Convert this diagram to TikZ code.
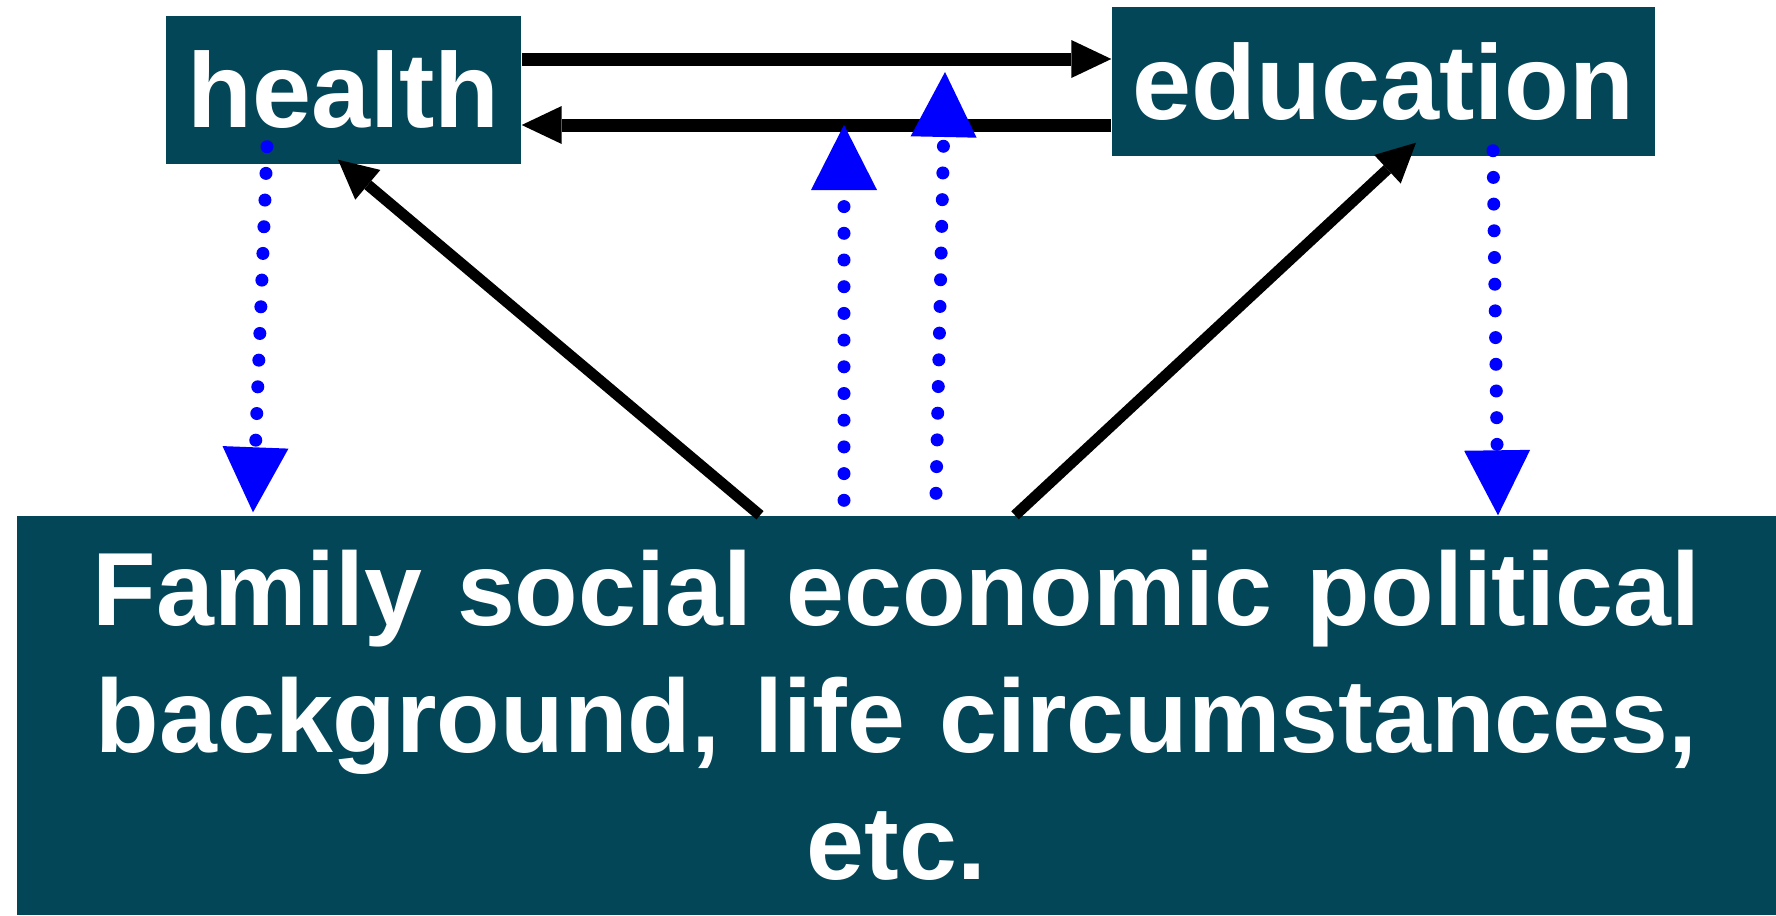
\documentclass[tikz,border=0pt]{standalone}
\usepackage{fontspec}
\setmainfont{Liberation Sans}
\usetikzlibrary{arrows.meta,positioning}
\definecolor{boxteal}{RGB}{2,70,87}
\tikzset{
  box/.style={fill=boxteal,text=white,inner sep=0pt,align=center,
    font=\fontsize{30.2pt}{36.1pt}\selectfont\bfseries},
  flow/.style={-{Triangle[length=4mm,width=3.8mm,line width=0pt]},line width=1.3mm},
  effect/.style={-{Triangle[length=6.5mm,width=6.6mm,line width=0pt]},blue,
    line width=1.3mm,line cap=round,dash pattern=on 0pt off 2.67mm}
}

\begin{document}
\begin{tikzpicture}[
  diagonal/.style={flow,line width=1.1mm,-{Triangle[length=3.9mm,width=3.9mm,line width=0pt]}}
]
  \useasboundingbox (0,0) rectangle (17.76,-9.15);
  \node[box,minimum width=3.55cm,minimum height=1.48cm] (health) at (3.435,-0.90) {health};
  \node[box,minimum width=5.43cm,minimum height=1.49cm] (education) at (13.835,-0.815) {education};
  \node[box,minimum width=17.59cm,minimum height=3.99cm,text width=17.2cm,
    font=\fontsize{29.6pt}{36.1pt}\selectfont\bfseries] (family) at (8.965,-7.155)
    {Family social economic political\\background, life circumstances,\\etc.};
  \coordinate (hup) at ([yshift=0.31cm]health.east);
  \coordinate (hlow) at ([yshift=-0.35cm]health.east);
  \draw[flow] (hup) -- (hup -| education.west);
  \draw[flow] (hlow -| education.west) -- (hlow);
  \draw[diagonal] ([xshift=-1.365cm]family.north) -- ([xshift=-0.055cm,yshift=0.05cm]health.south);
  \draw[diagonal] ([xshift=1.185cm]family.north) -- ([xshift=0.325cm,yshift=0.14cm]education.south);
  \draw[effect] ([xshift=-0.765cm,yshift=0.18cm]health.south) -- ([xshift=-6.435cm,yshift=0.03cm]family.north);
  \draw[effect] ([xshift=1.095cm,yshift=0.06cm]education.south) -- ([xshift=6.015cm]family.north);
  \coordinate (lowfoot) at ([xshift=-0.525cm,yshift=0.15cm]family.north);
  \coordinate (upfoot) at ([xshift=0.395cm,yshift=0.22cm]family.north);
  \path (upfoot |- hup) ++(0.09,-0.13) coordinate (uptip);
  \draw[effect] (lowfoot) -- (lowfoot |- hlow);
  \draw[effect] (upfoot) -- (uptip);
\end{tikzpicture}
\end{document}
